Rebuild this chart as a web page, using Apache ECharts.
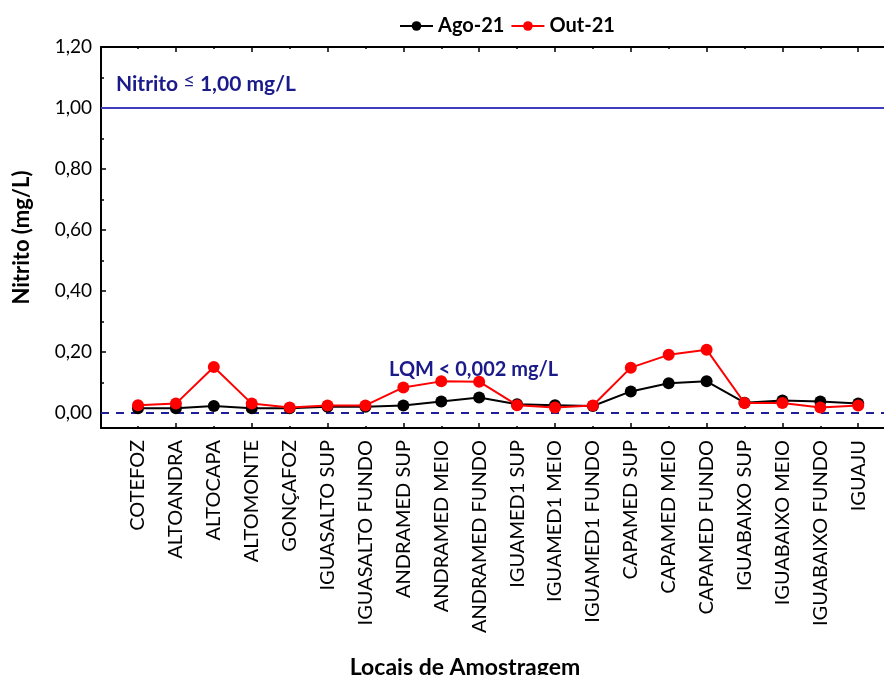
<!DOCTYPE html>
<html>
<head>
<meta charset="utf-8">
<script src="https://cdn.jsdelivr.net/npm/echarts@6/dist/echarts.min.js"></script>
<style>
  html, body { margin: 0; padding: 0; background: #fff; }
  #chart { width: 884px; height: 675px; }
</style>
</head>
<body>
<div id="chart"></div>
<script>
// Sampling sites along the river system
const categories = [
  'COTEFOZ', 'ALTOANDRA', 'ALTOCAPA', 'ALTOMONTE', 'GONÇAFOZ',
  'IGUASALTO SUP', 'IGUASALTO FUNDO', 'ANDRAMED SUP', 'ANDRAMED MEIO', 'ANDRAMED FUNDO',
  'IGUAMED1 SUP', 'IGUAMED1 MEIO', 'IGUAMED1 FUNDO', 'CAPAMED SUP', 'CAPAMED MEIO',
  'CAPAMED FUNDO', 'IGUABAIXO SUP', 'IGUABAIXO MEIO', 'IGUABAIXO FUNDO', 'IGUAJU'
];

// Nitrite concentrations (mg/L) per campaign
const ago21 = [0.015, 0.015, 0.022, 0.015, 0.015, 0.020, 0.020, 0.024, 0.037, 0.050,
               0.028, 0.025, 0.022, 0.070, 0.097, 0.103, 0.033, 0.040, 0.037, 0.030];
const out21 = [0.025, 0.030, 0.150, 0.030, 0.017, 0.024, 0.024, 0.083, 0.103, 0.102,
               0.025, 0.017, 0.024, 0.148, 0.190, 0.207, 0.032, 0.032, 0.017, 0.024];

// Reference levels
const limitValue = 1.00;   // legal maximum
const lqmValue = 0.002;    // quantification limit

// Y axis tick values
const yMajorTicks = [0, 0.2, 0.4, 0.6, 0.8, 1.0, 1.2];
const yMinorTicks = [0.1, 0.3, 0.5, 0.7, 0.9, 1.1];

const FONT = 'Lato';
const NAVY = '#1a1a8a';

const xMin = -0.976, xMax = 19.68;
const idx = categories.map((_, i) => i);
const oddIdx = idx.filter(i => i % 2 === 1);
const evenIdx = idx.filter(i => i % 2 === 0);

function pairs(arr) { return arr.map((v, i) => [i, v]); }

function xAxisCommon(extra) {
  return Object.assign({
    type: 'value', min: xMin, max: xMax,
    splitLine: { show: false },
    axisLabel: { show: false },
    axisLine: { show: false, onZero: false }
  }, extra);
}

const chart = echarts.init(document.getElementById('chart'), null, { renderer: 'canvas' });

chart.setOption({
  animation: false,
  backgroundColor: '#fff',
  textStyle: { fontFamily: FONT },
  legend: {
    top: 11, left: 394,
    itemWidth: 33, itemHeight: 12, itemGap: 6,
    textStyle: { fontFamily: FONT, fontWeight: 'bold', fontSize: 20, color: '#000' },
    data: ['Ago-21', 'Out-21']
  },
  grid: { left: 101, right: 0, top: 47, bottom: 247, containLabel: false },
  xAxis: [
    xAxisCommon({
      position: 'bottom',
      axisLine: { show: true, onZero: false, lineStyle: { color: '#000', width: 2 } },
      axisTick: { show: true, inside: true, length: 5, customValues: oddIdx, lineStyle: { color: '#000', width: 1.5 } },
      axisLabel: {
        show: true, rotate: 90, margin: 12, customValues: idx,
        fontFamily: FONT, fontSize: 20, color: '#000',
        formatter: v => categories[Math.round(v)] || ''
      }
    }),
    xAxisCommon({
      position: 'bottom',
      axisTick: { show: true, inside: true, length: 2, customValues: evenIdx, lineStyle: { color: '#000', width: 1.5 } }
    }),
    xAxisCommon({
      position: 'top',
      axisLine: { show: true, onZero: false, lineStyle: { color: '#000', width: 2 } },
      axisTick: { show: true, inside: true, length: 5, customValues: oddIdx, lineStyle: { color: '#000', width: 1.5 } }
    }),
    xAxisCommon({
      position: 'top',
      axisTick: { show: true, inside: true, length: 2, customValues: evenIdx, lineStyle: { color: '#000', width: 1.5 } }
    })
  ],
  yAxis: [
    {
      type: 'value', min: -0.05, max: 1.2, position: 'left',
      name: 'Nitrito (mg/L)', nameLocation: 'middle', nameGap: 68,
      nameTextStyle: { fontFamily: FONT, fontWeight: 'bold', fontSize: 22, color: '#000' },
      splitLine: { show: false },
      axisLine: { show: true, onZero: false, lineStyle: { color: '#000', width: 2 } },
      axisTick: { show: true, inside: true, length: 5, customValues: yMajorTicks, lineStyle: { color: '#000', width: 1.5 } },
      axisLabel: {
        customValues: yMajorTicks, margin: 9,
        fontFamily: FONT, fontSize: 19, color: '#000',
        formatter: v => v.toFixed(2).replace('.', ',')
      }
    },
    {
      type: 'value', min: -0.05, max: 1.2, position: 'left',
      splitLine: { show: false },
      axisLine: { show: false, onZero: false },
      axisLabel: { show: false },
      axisTick: { show: true, inside: true, length: 3, customValues: yMinorTicks, lineStyle: { color: '#000', width: 1.5 } }
    }
  ],
  series: [
    {
      name: 'Ago-21', type: 'line', xAxisIndex: 0, yAxisIndex: 0,
      data: pairs(ago21),
      symbol: 'circle', symbolSize: 12,
      itemStyle: { color: '#000' },
      lineStyle: { color: '#000', width: 2 },
      z: 3,
      markLine: {
        silent: true, symbol: 'none', z: 1,
        label: { show: false },
        emphasis: { disabled: true },
        data: [
          { yAxis: limitValue, lineStyle: { color: '#3d3dbd', width: 2, type: 'solid' } },
          { yAxis: lqmValue, lineStyle: { color: '#1f1f99', width: 2, type: [8, 7] } }
        ]
      }
    },
    {
      name: 'Out-21', type: 'line', xAxisIndex: 0, yAxisIndex: 0,
      data: pairs(out21),
      symbol: 'circle', symbolSize: 12,
      itemStyle: { color: '#ff0000' },
      lineStyle: { color: '#ff0000', width: 2 },
      z: 4
    }
  ],
  graphic: [
    {
      type: 'text', left: 116, top: 71,
      style: {
        text: '{b|Nitrito }{s|≤}{b| 1,00 mg/L}',
        rich: {
          b: { fontFamily: FONT, fontWeight: 'bold', fontSize: 21, fill: NAVY, verticalAlign: 'bottom' },
          s: { fontFamily: FONT, fontSize: 20, fill: NAVY, verticalAlign: 'top', padding: [0, 0, 4, 0] }
        }
      }
    },
    {
      type: 'text', left: 389, top: 360,
      style: {
        text: 'LQM < 0,002 mg/L',
        font: 'bold 20px ' + FONT,
        fill: NAVY
      }
    },
    {
      type: 'text', x: 465, y: 668,
      style: {
        text: 'Locais de Amostragem',
        font: 'bold 23px ' + FONT,
        fill: '#000',
        align: 'center', verticalAlign: 'middle'
      }
    }
  ]
});
</script>
</body>
</html>
